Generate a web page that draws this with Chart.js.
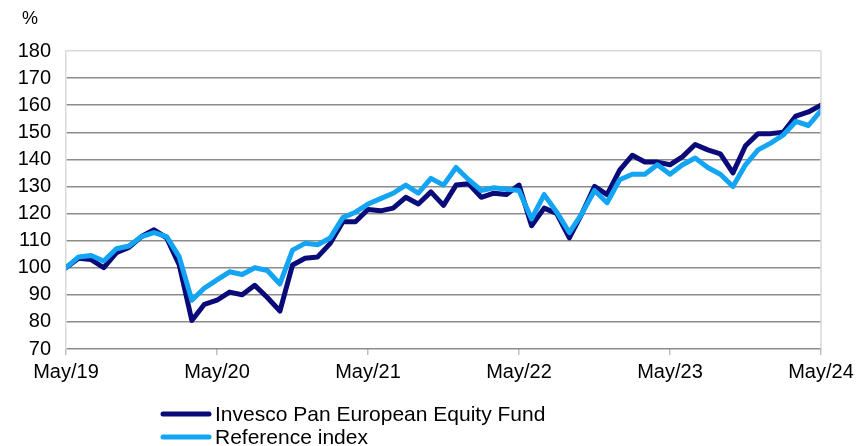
<!DOCTYPE html>
<html>
<head>
<meta charset="utf-8">
<script src="https://cdn.jsdelivr.net/npm/chart.js@4/dist/chart.umd.min.js"></script>
<style>
  html, body { margin: 0; padding: 0; background: #fff; }
  #wrap { position: relative; width: 856px; height: 446px; }
</style>
</head>
<body>
<div id="wrap"><canvas id="c" width="856" height="446"></canvas></div>
<script>
// ---- data ----
const seriesNames = ['Invesco Pan European Equity Fund', 'Reference index'];
const tickLabels = ['May/19', 'May/20', 'May/21', 'May/22', 'May/23', 'May/24'];
const fundValues = [
  100, 103.5, 103, 100, 105.5, 107.5, 111.5, 114, 111, 101,
  80.5, 86.5, 88, 91, 90, 93.5, 89, 84, 101, 103.5,
  104, 109, 117, 117, 121.5, 121, 122, 126, 123.5, 128,
  123, 130.5, 131, 126, 127.5, 127, 130.5, 115.5, 122, 120,
  111, 120, 130, 127, 136, 141.5, 139, 139, 138, 141,
  145.5, 143.5, 142, 135, 145, 149.5, 149.5, 150, 156, 157.5,
  160
];
const referenceValues = [
  100, 104, 104.5, 102.5, 107, 108, 111.5, 113, 111.5, 104,
  88, 92.5, 95.5, 98.5, 97.5, 100, 99, 94, 106.5, 109,
  108.5, 111, 118.5, 120.5, 123.5, 125.5, 127.5, 130.5, 127.5, 133,
  130.5, 137, 132.5, 128.5, 129.5, 129, 128.5, 118, 127, 120.5,
  113, 120, 128.5, 124, 132.5, 134.5, 134.5, 138, 134.5, 138,
  140.5, 137, 134.5, 130, 138, 143.5, 146, 149, 154, 152.5,
  158
];
const yTicks = [70, 80, 90, 100, 110, 120, 130, 140, 150, 160, 170, 180];

const monthIndex = fundValues.map((_, i) => i);
const toPts = arr => arr.map((v, i) => ({ x: monthIndex[i], y: v }));

const NAVY = '#0a0a78';
const LIGHT = '#13a5f3';
const FONT = 'Liberation Sans, Arial, sans-serif';

const extras = {
  id: 'extras',
  afterDraw(chart) {
    const ctx = chart.ctx, a = chart.chartArea;
    ctx.save();
    // right border
    ctx.strokeStyle = '#d9d9d9';
    ctx.lineWidth = 1.5;
    ctx.beginPath();
    ctx.moveTo(a.right, a.top);
    ctx.lineTo(a.right, a.bottom);
    ctx.stroke();
    // % label
    ctx.fillStyle = '#000';
    ctx.font = '18px ' + FONT;
    ctx.textAlign = 'center';
    ctx.textBaseline = 'middle';
    ctx.fillText('%', 30, 19);
    // legend
    const items = [
      { name: seriesNames[0], color: NAVY, y: 414 },
      { name: seriesNames[1], color: LIGHT, y: 437 }
    ];
    ctx.font = '21px ' + FONT;
    ctx.textAlign = 'left';
    items.forEach(it => {
      ctx.strokeStyle = it.color;
      ctx.lineWidth = 5;
      ctx.lineCap = 'round';
      ctx.beginPath();
      ctx.moveTo(163, it.y);
      ctx.lineTo(209, it.y);
      ctx.stroke();
      ctx.fillStyle = '#000';
      ctx.fillText(it.name, 215, it.y + 1);
    });
    ctx.restore();
  }
};

new Chart(document.getElementById('c'), {
  type: 'line',
  data: {
    datasets: [
      { label: seriesNames[0], data: toPts(fundValues), borderColor: NAVY, backgroundColor: NAVY,
        borderWidth: 5, pointRadius: 0, tension: 0, order: 1, borderJoinStyle: 'round', borderCapStyle: 'round' },
      { label: seriesNames[1], data: toPts(referenceValues), borderColor: LIGHT, backgroundColor: LIGHT,
        borderWidth: 5, pointRadius: 0, tension: 0, order: 0, borderJoinStyle: 'round', borderCapStyle: 'round' }
    ]
  },
  options: {
    responsive: false,
    animation: false,
    layout: { padding: { left: 0, right: 35, top: 51, bottom: 0 } },
    plugins: { legend: { display: false }, tooltip: { enabled: false } },
    scales: {
      x: {
        type: 'linear', min: 0, max: 60,
        afterBuildTicks: s => { s.ticks = tickLabels.map((_, i) => ({ value: i * 12 })); },
        afterFit: s => { s.height = 97; s.paddingLeft = 0; s.paddingRight = 0; },
        ticks: {
          autoSkip: false, maxRotation: 0, padding: 5,
          color: '#000', font: { family: FONT, size: 20 },
          callback: (v) => tickLabels[Math.round(v / 12)]
        },
        grid: { drawOnChartArea: false, drawTicks: true, tickLength: 6, color: '#bfbfbf', lineWidth: 1.5 },
        border: { display: false }
      },
      y: {
        min: 70, max: 180,
        afterBuildTicks: s => { s.ticks = yTicks.map(v => ({ value: v })); },
        afterFit: s => { s.width = 66; },
        ticks: { color: '#000', font: { family: FONT, size: 20 }, padding: 15 },
        grid: {
          drawTicks: false,
          color: c => (c.tick && c.tick.value === 180) ? '#d9d9d9' : '#8c8c8c',
          lineWidth: 1.5
        },
        border: { display: true, color: '#d9d9d9', width: 1.5 }
      }
    }
  },
  plugins: [extras]
});
</script>
</body>
</html>
